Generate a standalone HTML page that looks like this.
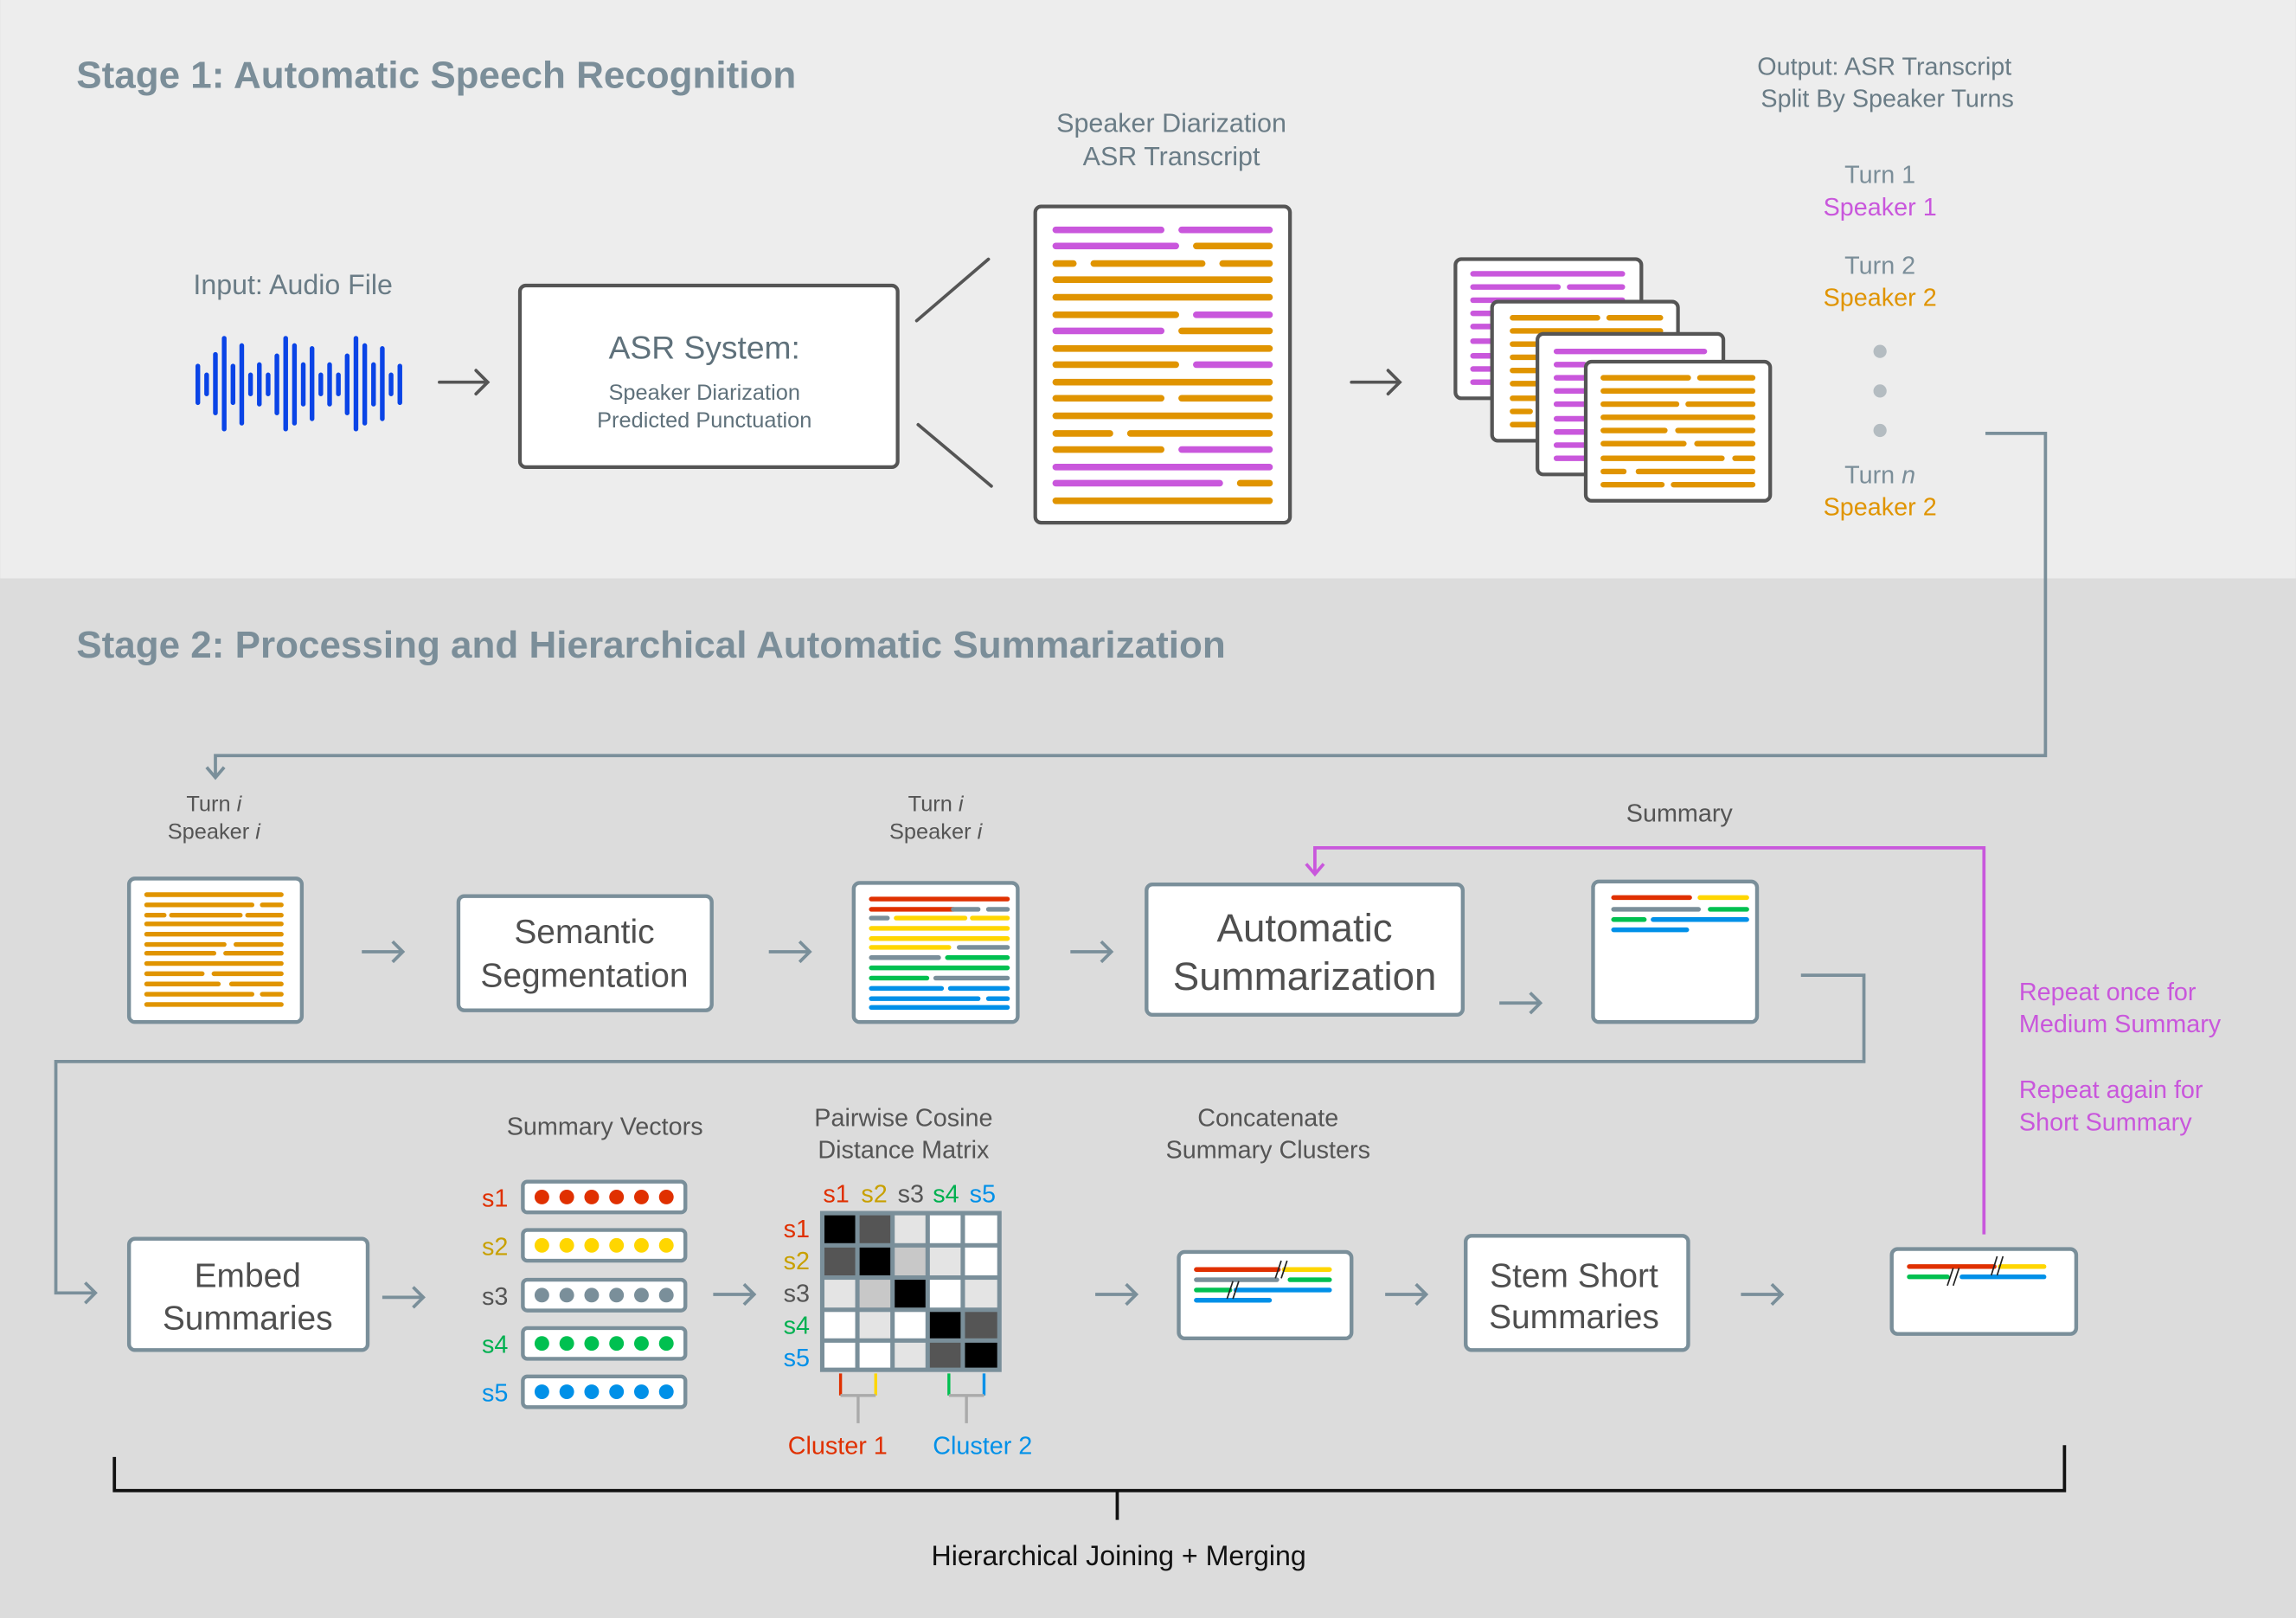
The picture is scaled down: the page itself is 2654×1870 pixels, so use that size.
<!DOCTYPE html>
<html><head><meta charset="utf-8"><style>
html,body{margin:0;padding:0;background:#dcdcdc}
svg{display:block}
text{font-family:"Liberation Sans",sans-serif}
</style></head><body>
<svg width="2654" height="1870" viewBox="0 0 1568 1105" xmlns="http://www.w3.org/2000/svg">
<defs>
<marker id="ah" viewBox="0 0 10 10" refX="9" refY="5" markerWidth="7" markerHeight="7" orient="auto" markerUnits="userSpaceOnUse"></marker>
</defs>
<rect x="0" y="0" width="1568" height="395" fill="#ededed"/>
<rect x="0" y="395" width="1568" height="710" fill="#dcdcdc"/>

<text x="52" y="60" font-size="26" font-weight="bold" fill="#7b8e99">Stage 1: Automatic Speech Recognition</text>
<text x="52" y="449" font-size="26" font-weight="bold" fill="#7b8e99">Stage 2: Processing and Hierarchical Automatic Summarization</text>

<!-- Stage 1 -->
<text x="200" y="201" font-size="19" fill="#6a7c86" text-anchor="middle">Input: Audio File</text>
<g stroke="#0a44e6" stroke-width="3.2" stroke-linecap="round">
<line x1="135" y1="250" x2="135" y2="275"/><line x1="141" y1="256" x2="141" y2="269"/>
<line x1="147" y1="242" x2="147" y2="282"/><line x1="153" y1="231" x2="153" y2="293"/>
<line x1="159" y1="250" x2="159" y2="275"/><line x1="165" y1="236" x2="165" y2="289"/>
<line x1="171" y1="256" x2="171" y2="269"/><line x1="177" y1="249" x2="177" y2="276"/>
<line x1="183" y1="256" x2="183" y2="269"/><line x1="189" y1="243" x2="189" y2="282"/>
<line x1="195" y1="231" x2="195" y2="293"/><line x1="201" y1="236" x2="201" y2="289"/>
<line x1="207" y1="249" x2="207" y2="276"/><line x1="213" y1="238" x2="213" y2="286"/>
<line x1="219" y1="256" x2="219" y2="269"/><line x1="225" y1="249" x2="225" y2="276"/>
<line x1="231" y1="256" x2="231" y2="269"/><line x1="237" y1="243" x2="237" y2="282"/>
<line x1="243" y1="231" x2="243" y2="293"/><line x1="249" y1="236" x2="249" y2="289"/>
<line x1="255" y1="249" x2="255" y2="276"/><line x1="261" y1="238" x2="261" y2="286"/>
<line x1="267" y1="256" x2="267" y2="269"/><line x1="273" y1="250" x2="273" y2="275"/>
</g>
<g stroke="#555" stroke-width="2.2" fill="none" stroke-linecap="round">
<path d="M300 261 H333 M325 253 L333 261 L325 269"/>
<path d="M923 261 H956 M948 253 L956 261 L948 269"/>
<line x1="626" y1="219" x2="675" y2="177"/>
<line x1="627" y1="290" x2="677" y2="332"/>
</g>
<rect x="355" y="195" width="258" height="124" rx="4" fill="#fff" stroke="#555" stroke-width="2.5"/>
<text x="481" y="245" font-size="22" fill="#5f717b" text-anchor="middle">ASR System:</text>
<text x="481" y="273" font-size="15" fill="#5f717b" text-anchor="middle">Speaker Diarization</text>
<text x="481" y="292" font-size="15" fill="#5f717b" text-anchor="middle">Predicted Punctuation</text>

<text x="800" y="90" font-size="18" fill="#6a7c86" text-anchor="middle">Speaker Diarization</text>
<text x="800" y="113" font-size="18" fill="#6a7c86" text-anchor="middle">ASR Transcript</text>
<rect x="707" y="141" width="174" height="216" rx="4" fill="#fff" stroke="#555" stroke-width="2.5"/>
<g stroke-width="4.5" stroke-linecap="round">
<g stroke="#c957dc">
<line x1="721" y1="157" x2="793" y2="157"/><line x1="807" y1="157" x2="867" y2="157"/>
<line x1="721" y1="168" x2="803" y2="168"/>
<line x1="817" y1="215" x2="867" y2="215"/>
<line x1="721" y1="226" x2="793" y2="226"/>
<line x1="817" y1="249" x2="867" y2="249"/>
<line x1="807" y1="307" x2="867" y2="307"/>
<line x1="721" y1="319" x2="867" y2="319"/>
<line x1="721" y1="330" x2="833" y2="330"/>
</g>
<g stroke="#e09400">
<line x1="817" y1="168" x2="867" y2="168"/>
<line x1="721" y1="180" x2="733" y2="180"/><line x1="747" y1="180" x2="821" y2="180"/><line x1="835" y1="180" x2="867" y2="180"/>
<line x1="721" y1="191" x2="867" y2="191"/>
<line x1="721" y1="203" x2="867" y2="203"/>
<line x1="721" y1="215" x2="803" y2="215"/>
<line x1="807" y1="226" x2="867" y2="226"/>
<line x1="721" y1="238" x2="867" y2="238"/>
<line x1="721" y1="249" x2="803" y2="249"/>
<line x1="721" y1="261" x2="867" y2="261"/>
<line x1="721" y1="272" x2="793" y2="272"/><line x1="807" y1="272" x2="867" y2="272"/>
<line x1="721" y1="284" x2="867" y2="284"/>
<line x1="721" y1="296" x2="758" y2="296"/><line x1="772" y1="296" x2="867" y2="296"/>
<line x1="721" y1="307" x2="793" y2="307"/>
<line x1="847" y1="330" x2="867" y2="330"/>
<line x1="721" y1="342" x2="867" y2="342"/>
</g></g>

<!-- stacked pages -->
<rect x="994" y="177" width="127" height="95" rx="4" fill="#fff" stroke="#555" stroke-width="2.5"/>
<g stroke="#c957dc" stroke-width="3.8" stroke-linecap="round">
<line x1="1006" y1="187" x2="1108" y2="187"/><line x1="1006" y1="196" x2="1064" y2="196"/><line x1="1072" y1="196" x2="1108" y2="196"/>
<line x1="1006" y1="205" x2="1108" y2="205"/>
<line x1="1006" y1="214" x2="1020" y2="214"/><line x1="1006" y1="223" x2="1020" y2="223"/><line x1="1006" y1="233" x2="1020" y2="233"/>
<line x1="1006" y1="243" x2="1020" y2="243"/><line x1="1006" y1="252" x2="1020" y2="252"/><line x1="1006" y1="261" x2="1020" y2="261"/>
</g>
<rect x="1019" y="206" width="127" height="95" rx="4" fill="#fff" stroke="#555" stroke-width="2.5"/>
<g stroke="#e09400" stroke-width="3.8" stroke-linecap="round">
<line x1="1033" y1="217" x2="1091" y2="217"/><line x1="1099" y1="217" x2="1134" y2="217"/>
<line x1="1033" y1="226" x2="1134" y2="226"/>
<line x1="1033" y1="235" x2="1050" y2="235"/><line x1="1033" y1="244" x2="1050" y2="244"/><line x1="1033" y1="253" x2="1050" y2="253"/>
<line x1="1033" y1="262" x2="1050" y2="262"/><line x1="1033" y1="272" x2="1050" y2="272"/><line x1="1033" y1="281" x2="1045" y2="281"/><line x1="1033" y1="290" x2="1050" y2="290"/>
</g>
<rect x="1050" y="228" width="127" height="96" rx="4" fill="#fff" stroke="#555" stroke-width="2.5"/>
<g stroke="#c957dc" stroke-width="3.8" stroke-linecap="round">
<line x1="1063" y1="240" x2="1164" y2="240"/>
<line x1="1063" y1="249" x2="1082" y2="249"/><line x1="1063" y1="258" x2="1082" y2="258"/><line x1="1063" y1="267" x2="1082" y2="267"/>
<line x1="1063" y1="276" x2="1082" y2="276"/><line x1="1063" y1="286" x2="1082" y2="286"/><line x1="1063" y1="295" x2="1082" y2="295"/>
<line x1="1063" y1="304" x2="1082" y2="304"/><line x1="1063" y1="313" x2="1082" y2="313"/>
</g>
<rect x="1083" y="247" width="126" height="95" rx="4" fill="#fff" stroke="#555" stroke-width="2.5"/>
<g stroke="#e09400" stroke-width="3.8" stroke-linecap="round">
<line x1="1095" y1="258" x2="1153" y2="258"/><line x1="1161" y1="258" x2="1197" y2="258"/>
<line x1="1095" y1="267" x2="1197" y2="267"/>
<line x1="1095" y1="276" x2="1145" y2="276"/><line x1="1153" y1="276" x2="1197" y2="276"/>
<line x1="1095" y1="285" x2="1197" y2="285"/>
<line x1="1095" y1="294" x2="1137" y2="294"/><line x1="1146" y1="294" x2="1197" y2="294"/>
<line x1="1095" y1="303" x2="1150" y2="303"/><line x1="1159" y1="303" x2="1197" y2="303"/>
<line x1="1095" y1="313" x2="1176" y2="313"/><line x1="1185" y1="313" x2="1197" y2="313"/>
<line x1="1095" y1="322" x2="1109" y2="322"/><line x1="1119" y1="322" x2="1197" y2="322"/>
<line x1="1095" y1="331" x2="1135" y2="331"/><line x1="1143" y1="331" x2="1197" y2="331"/>
</g>

<text x="1287" y="51" font-size="17" fill="#6a7c86" text-anchor="middle">Output: ASR Transcript</text>
<text x="1289" y="73" font-size="17" fill="#6a7c86" text-anchor="middle">Split By Speaker Turns</text>
<text x="1284" y="125" font-size="17" fill="#7b8e99" text-anchor="middle">Turn 1</text>
<text x="1284" y="147" font-size="17" fill="#c957dc" text-anchor="middle">Speaker 1</text>
<text x="1284" y="187" font-size="17" fill="#7b8e99" text-anchor="middle">Turn 2</text>
<text x="1284" y="209" font-size="17" fill="#e09400" text-anchor="middle">Speaker 2</text>
<circle cx="1284" cy="240" r="4.5" fill="#b4bcc1"/><circle cx="1284" cy="267" r="4.5" fill="#b4bcc1"/><circle cx="1284" cy="294" r="4.5" fill="#b4bcc1"/>
<text x="1284" y="330" font-size="17" fill="#7b8e99" text-anchor="middle">Turn <tspan font-style="italic">n</tspan></text>
<text x="1284" y="352" font-size="17" fill="#e09400" text-anchor="middle">Speaker 2</text>

<!-- connectors stage 2 -->
<g stroke="#7a8f9a" stroke-width="2.2" fill="none">
<path d="M1356 296 H1397 V516 H147 V530"/>
<path d="M141 524 L147 531 L153 524"/>
<path d="M1230 666 H1273 V725 H38 V883 H65"/>
<path d="M58 876 L65 883 L58 890"/>
<path d="M247 650 H275 M268 643 L275 650 L268 657"/>
<path d="M525 650 H553 M546 643 L553 650 L546 657"/>
<path d="M731 650 H759 M752 643 L759 650 L752 657"/>
<path d="M1024 685 H1052 M1045 678 L1052 685 L1045 692"/>
<path d="M261 886 H289 M282 879 L289 886 L282 893"/>
<path d="M487 884 H515 M508 877 L515 884 L508 891"/>
<path d="M748 884 H776 M769 877 L776 884 L769 891"/>
<path d="M946 884 H974 M967 877 L974 884 L967 891"/>
<path d="M1189 884 H1217 M1210 877 L1217 884 L1210 891"/>
</g>
<g stroke="#c957dc" stroke-width="2.2" fill="none">
<path d="M1355 843 V579 H898 V596"/>
<path d="M892 590 L898 597 L904 590"/>
</g>

<text x="146" y="554" font-size="15" fill="#555" text-anchor="middle">Turn <tspan font-style="italic">i</tspan></text>
<text x="146" y="573" font-size="15" fill="#555" text-anchor="middle">Speaker <tspan font-style="italic">i</tspan></text>
<text x="639" y="554" font-size="15" fill="#555" text-anchor="middle">Turn <tspan font-style="italic">i</tspan></text>
<text x="639" y="573" font-size="15" fill="#555" text-anchor="middle">Speaker <tspan font-style="italic">i</tspan></text>
<text x="1147" y="561" font-size="17" fill="#555" text-anchor="middle">Summary</text>

<!-- doc 1 -->
<rect x="88" y="600" width="118" height="98" rx="4" fill="#fff" stroke="#7a8f9a" stroke-width="2.6"/>
<g stroke="#e09400" stroke-width="3.2" stroke-linecap="round">
<line x1="100" y1="611" x2="192" y2="611"/>
<line x1="100" y1="618" x2="172" y2="618"/><line x1="179" y1="618" x2="192" y2="618"/>
<line x1="100" y1="625" x2="112" y2="625"/><line x1="117" y1="625" x2="164" y2="625"/><line x1="169" y1="625" x2="192" y2="625"/>
<line x1="100" y1="631" x2="192" y2="631"/>
<line x1="100" y1="638" x2="192" y2="638"/>
<line x1="100" y1="645" x2="153" y2="645"/><line x1="161" y1="645" x2="192" y2="645"/>
<line x1="100" y1="651" x2="146" y2="651"/><line x1="154" y1="651" x2="192" y2="651"/>
<line x1="100" y1="658" x2="192" y2="658"/>
<line x1="100" y1="665" x2="138" y2="665"/><line x1="146" y1="665" x2="192" y2="665"/>
<line x1="100" y1="672" x2="149" y2="672"/><line x1="158" y1="672" x2="192" y2="672"/>
<line x1="100" y1="679" x2="172" y2="679"/><line x1="179" y1="679" x2="192" y2="679"/>
<line x1="100" y1="686" x2="192" y2="686"/>
</g>

<rect x="313" y="612" width="173" height="78" rx="4" fill="#fff" stroke="#7a8f9a" stroke-width="2.6"/>
<text x="399" y="644" font-size="23" fill="#4f4f4f" text-anchor="middle">Semantic</text>
<text x="399" y="674" font-size="23" fill="#4f4f4f" text-anchor="middle">Segmentation</text>

<!-- doc 2 -->
<rect x="583" y="603" width="112" height="95" rx="4" fill="#fff" stroke="#7a8f9a" stroke-width="2.6"/>
<g stroke-width="3.2" stroke-linecap="round">
<line stroke="#e03000" x1="595" y1="614" x2="688" y2="614"/>
<line stroke="#e03000" x1="595" y1="621" x2="651" y2="621"/><line stroke="#7a8f9a" x1="651" y1="621" x2="668" y2="621"/><line stroke="#7a8f9a" x1="675" y1="621" x2="688" y2="621"/>
<line stroke="#7a8f9a" x1="595" y1="627" x2="606" y2="627"/><line stroke="#ffd600" x1="612" y1="627" x2="659" y2="627"/><line stroke="#ffd600" x1="664" y1="627" x2="688" y2="627"/>
<line stroke="#ffd600" x1="595" y1="634" x2="688" y2="634"/>
<line stroke="#ffd600" x1="595" y1="641" x2="688" y2="641"/>
<line stroke="#ffd600" x1="595" y1="647" x2="648" y2="647"/><line stroke="#7a8f9a" x1="655" y1="647" x2="688" y2="647"/>
<line stroke="#7a8f9a" x1="595" y1="654" x2="641" y2="654"/><line stroke="#00c050" x1="647" y1="654" x2="688" y2="654"/>
<line stroke="#00c050" x1="595" y1="661" x2="688" y2="661"/>
<line stroke="#00c050" x1="595" y1="668" x2="633" y2="668"/><line stroke="#7a8f9a" x1="639" y1="668" x2="688" y2="668"/>
<line stroke="#0090e8" x1="595" y1="675" x2="643" y2="675"/><line stroke="#0090e8" x1="649" y1="675" x2="688" y2="675"/>
<line stroke="#0090e8" x1="595" y1="682" x2="668" y2="682"/><line stroke="#0090e8" x1="675" y1="682" x2="688" y2="682"/>
<line stroke="#0090e8" x1="595" y1="688" x2="688" y2="688"/>
</g>

<rect x="783" y="604" width="216" height="89" rx="4" fill="#fff" stroke="#7a8f9a" stroke-width="2.6"/>
<text x="891" y="643" font-size="27" fill="#4f4f4f" text-anchor="middle">Automatic</text>
<text x="891" y="676" font-size="27" fill="#4f4f4f" text-anchor="middle">Summarization</text>

<rect x="1088" y="602" width="112" height="96" rx="4" fill="#fff" stroke="#7a8f9a" stroke-width="2.6"/>
<g stroke-width="3.2" stroke-linecap="round">
<line stroke="#e03000" x1="1102" y1="613" x2="1154" y2="613"/><line stroke="#ffd600" x1="1161" y1="613" x2="1193" y2="613"/>
<line stroke="#7a8f9a" x1="1102" y1="621" x2="1160" y2="621"/><line stroke="#00c050" x1="1168" y1="621" x2="1193" y2="621"/>
<line stroke="#00c050" x1="1102" y1="628" x2="1123" y2="628"/><line stroke="#0090e8" x1="1129" y1="628" x2="1193" y2="628"/>
<line stroke="#0090e8" x1="1102" y1="635" x2="1152" y2="635"/>
</g>

<text x="1379" y="683" font-size="17" fill="#c957dc">Repeat once for</text>
<text x="1379" y="705" font-size="17" fill="#c957dc">Medium Summary</text>
<text x="1379" y="750" font-size="17" fill="#c957dc">Repeat again for</text>
<text x="1379" y="772" font-size="17" fill="#c957dc">Short Summary</text>

<!-- row 3 -->
<rect x="88" y="846" width="163" height="76" rx="4" fill="#fff" stroke="#7a8f9a" stroke-width="2.6"/>
<text x="169" y="879" font-size="23" fill="#4f4f4f" text-anchor="middle">Embed</text>
<text x="169" y="908" font-size="23" fill="#4f4f4f" text-anchor="middle">Summaries</text>

<text x="413" y="775" font-size="17" fill="#555" text-anchor="middle">Summary Vectors</text>
<g font-size="17">
<text x="338" y="824" fill="#e03000" text-anchor="middle">s1</text>
<text x="338" y="857" fill="#c8a000" text-anchor="middle">s2</text>
<text x="338" y="891" fill="#555" text-anchor="middle">s3</text>
<text x="338" y="924" fill="#00b050" text-anchor="middle">s4</text>
<text x="338" y="957" fill="#0090e8" text-anchor="middle">s5</text>
</g>
<g stroke="#7a8f9a" stroke-width="2.6" fill="#fff">
<rect x="357" y="807" width="111" height="21" rx="3"/>
<rect x="357" y="840" width="111" height="21" rx="3"/>
<rect x="357" y="874" width="111" height="21" rx="3"/>
<rect x="357" y="907" width="111" height="21" rx="3"/>
<rect x="357" y="940" width="111" height="21" rx="3"/>
</g>
<g>
<g fill="#e03000"><circle cx="370" cy="817.5" r="5"/><circle cx="387" cy="817.5" r="5"/><circle cx="404" cy="817.5" r="5"/><circle cx="421" cy="817.5" r="5"/><circle cx="438" cy="817.5" r="5"/><circle cx="455" cy="817.5" r="5"/></g>
<g fill="#ffd600"><circle cx="370" cy="850.5" r="5"/><circle cx="387" cy="850.5" r="5"/><circle cx="404" cy="850.5" r="5"/><circle cx="421" cy="850.5" r="5"/><circle cx="438" cy="850.5" r="5"/><circle cx="455" cy="850.5" r="5"/></g>
<g fill="#7a8f9a"><circle cx="370" cy="884.5" r="5"/><circle cx="387" cy="884.5" r="5"/><circle cx="404" cy="884.5" r="5"/><circle cx="421" cy="884.5" r="5"/><circle cx="438" cy="884.5" r="5"/><circle cx="455" cy="884.5" r="5"/></g>
<g fill="#00c050"><circle cx="370" cy="917.5" r="5"/><circle cx="387" cy="917.5" r="5"/><circle cx="404" cy="917.5" r="5"/><circle cx="421" cy="917.5" r="5"/><circle cx="438" cy="917.5" r="5"/><circle cx="455" cy="917.5" r="5"/></g>
<g fill="#0090e8"><circle cx="370" cy="950.5" r="5"/><circle cx="387" cy="950.5" r="5"/><circle cx="404" cy="950.5" r="5"/><circle cx="421" cy="950.5" r="5"/><circle cx="438" cy="950.5" r="5"/><circle cx="455" cy="950.5" r="5"/></g>
</g>

<text x="617" y="769" font-size="17" fill="#555" text-anchor="middle">Pairwise Cosine</text>
<text x="617" y="791" font-size="17" fill="#555" text-anchor="middle">Distance Matrix</text>
<g font-size="17" text-anchor="middle">
<text x="571" y="821" fill="#e03000">s1</text><text x="597" y="821" fill="#c8a000">s2</text><text x="622" y="821" fill="#555">s3</text><text x="646" y="821" fill="#00b050">s4</text><text x="671" y="821" fill="#0090e8">s5</text>
<text x="544" y="845" fill="#e03000">s1</text><text x="544" y="867" fill="#c8a000">s2</text><text x="544" y="889" fill="#555">s3</text><text x="544" y="911" fill="#00b050">s4</text><text x="544" y="933" fill="#0090e8">s5</text>
</g>
<rect x="560" y="827" width="124" height="110" fill="#7a8f9a"/>
<g>
<rect x="563" y="830" width="21" height="19" fill="#000"/><rect x="587" y="830" width="21" height="19" fill="#555"/><rect x="611" y="830" width="21" height="19" fill="#e4e4e4"/><rect x="635" y="830" width="21" height="19" fill="#fff"/><rect x="659" y="830" width="22" height="19" fill="#fff"/>
<rect x="563" y="852" width="21" height="19" fill="#555"/><rect x="587" y="852" width="21" height="19" fill="#000"/><rect x="611" y="852" width="21" height="19" fill="#c8c8c8"/><rect x="635" y="852" width="21" height="19" fill="#e4e4e4"/><rect x="659" y="852" width="22" height="19" fill="#fff"/>
<rect x="563" y="874" width="21" height="19" fill="#e4e4e4"/><rect x="587" y="874" width="21" height="19" fill="#c8c8c8"/><rect x="611" y="874" width="21" height="19" fill="#000"/><rect x="635" y="874" width="21" height="19" fill="#fff"/><rect x="659" y="874" width="22" height="19" fill="#e4e4e4"/>
<rect x="563" y="896" width="21" height="18" fill="#fff"/><rect x="587" y="896" width="21" height="18" fill="#e4e4e4"/><rect x="611" y="896" width="21" height="18" fill="#fff"/><rect x="635" y="896" width="21" height="18" fill="#000"/><rect x="659" y="896" width="22" height="18" fill="#555"/>
<rect x="563" y="917" width="21" height="17" fill="#fff"/><rect x="587" y="917" width="21" height="17" fill="#fff"/><rect x="611" y="917" width="21" height="17" fill="#e4e4e4"/><rect x="635" y="917" width="21" height="17" fill="#555"/><rect x="659" y="917" width="22" height="17" fill="#000"/>
</g>
<g stroke-width="2" fill="none">
<line x1="574" y1="938" x2="574" y2="953" stroke="#e03000"/>
<line x1="598" y1="938" x2="598" y2="953" stroke="#ffd600"/>
<path d="M574 953 H598 M586 953 V972" stroke="#aaa"/>
<line x1="648" y1="938" x2="648" y2="953" stroke="#00c050"/>
<line x1="672" y1="938" x2="672" y2="953" stroke="#0090e8"/>
<path d="M648 953 H672 M660 953 V972" stroke="#aaa"/>
</g>
<text x="572" y="993" font-size="17" fill="#e03000" text-anchor="middle">Cluster 1</text>
<text x="671" y="993" font-size="17" fill="#0090e8" text-anchor="middle">Cluster 2</text>

<text x="866" y="769" font-size="17" fill="#555" text-anchor="middle">Concatenate</text>
<text x="866" y="791" font-size="17" fill="#555" text-anchor="middle">Summary Clusters</text>
<rect x="805" y="855" width="118" height="59" rx="4" fill="#fff" stroke="#7a8f9a" stroke-width="2.6"/>
<g stroke-width="3.2" stroke-linecap="round">
<line stroke="#e03000" x1="817" y1="867" x2="873" y2="867"/><line stroke="#ffd600" x1="877" y1="867" x2="908" y2="867"/>
<line stroke="#7a8f9a" x1="817" y1="874" x2="872" y2="874"/><line stroke="#00c050" x1="881" y1="874" x2="908" y2="874"/>
<line stroke="#00c050" x1="817" y1="881" x2="840" y2="881"/><line stroke="#0090e8" x1="844" y1="881" x2="908" y2="881"/>
<line stroke="#0090e8" x1="817" y1="888" x2="867" y2="888"/>
</g>
<g stroke="#222" stroke-width="1"><line x1="871" y1="873" x2="875" y2="861"/><line x1="875" y1="873" x2="879" y2="861"/><line x1="838" y1="887" x2="842" y2="875"/><line x1="842" y1="887" x2="846" y2="875"/></g>

<rect x="1001" y="844" width="152" height="78" rx="4" fill="#fff" stroke="#7a8f9a" stroke-width="2.6"/>
<text x="1075" y="879" font-size="23" fill="#4f4f4f" text-anchor="middle">Stem Short</text>
<text x="1075" y="907" font-size="23" fill="#4f4f4f" text-anchor="middle">Summaries</text>

<rect x="1292" y="853" width="126" height="58" rx="4" fill="#fff" stroke="#7a8f9a" stroke-width="2.6"/>
<g stroke-width="3.2" stroke-linecap="round">
<line stroke="#e03000" x1="1304" y1="865" x2="1362" y2="865"/><line stroke="#ffd600" x1="1366" y1="865" x2="1396" y2="865"/>
<line stroke="#00c050" x1="1304" y1="872" x2="1330" y2="872"/><line stroke="#0090e8" x1="1340" y1="872" x2="1396" y2="872"/>
</g>
<g stroke="#222" stroke-width="1"><line x1="1360" y1="871" x2="1364" y2="858"/><line x1="1364" y1="871" x2="1368" y2="858"/><line x1="1330" y1="878" x2="1334" y2="866"/><line x1="1334" y1="878" x2="1338" y2="866"/></g>

<path d="M78 995 V1018 H1410 V987 M763 1018 V1038" stroke="#111" stroke-width="2.2" fill="none"/>
<text x="764" y="1069" font-size="19" fill="#111" text-anchor="middle">Hierarchical Joining + Merging</text>
</svg>
</body></html>
